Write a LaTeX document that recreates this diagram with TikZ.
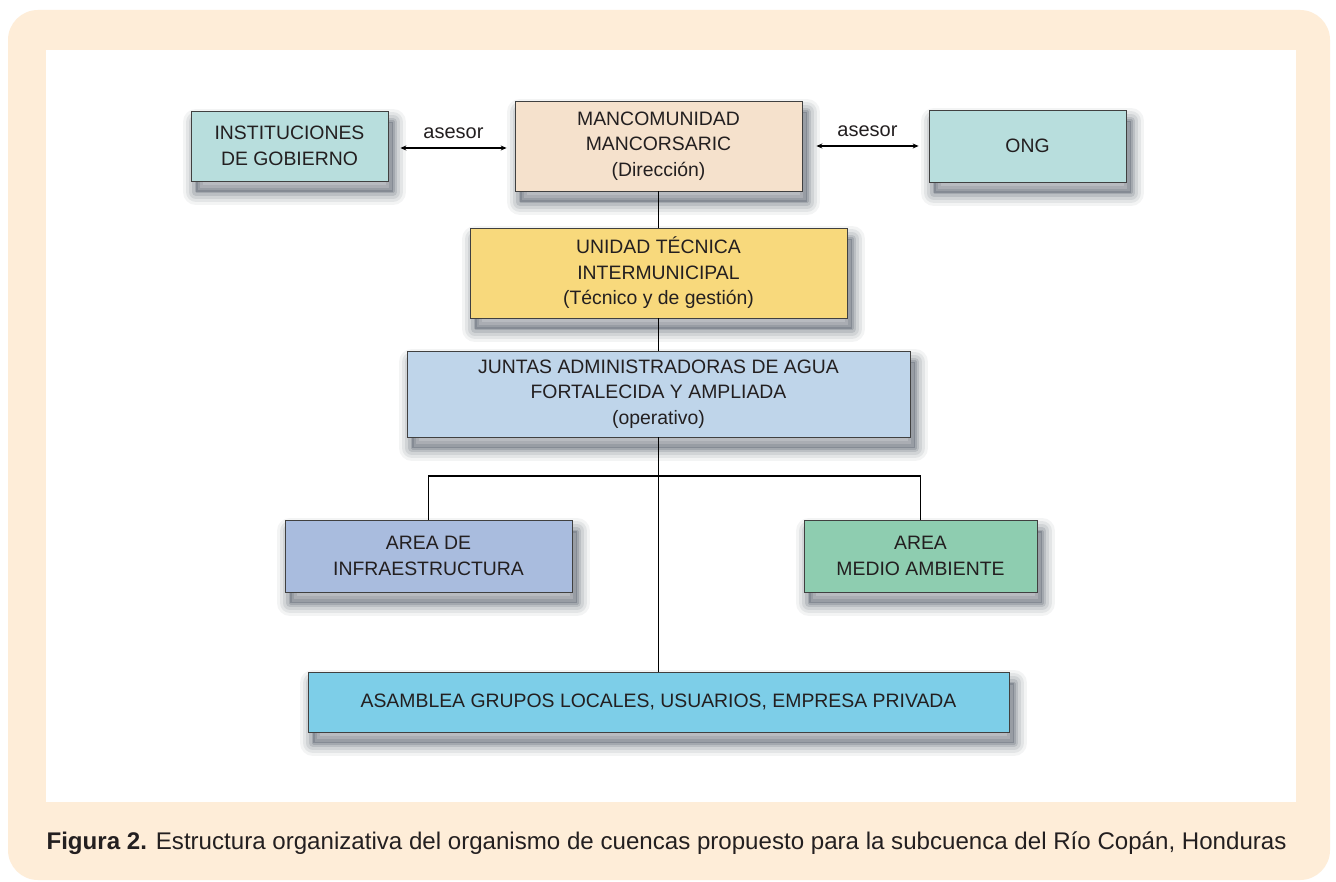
\documentclass[tikz,border=0pt]{standalone}
\usepackage{fontspec}
\setmainfont{Liberation Sans}
\usetikzlibrary{arrows.meta}
\definecolor{peach}{HTML}{FEEDD8}
\definecolor{txt}{HTML}{231F20}
\definecolor{cteal}{HTML}{B8DEDD}
\definecolor{cbeige}{HTML}{F5E1CC}
\definecolor{cyell}{HTML}{F8D97C}
\definecolor{cblue}{HTML}{BFD5EA}
\definecolor{cslate}{HTML}{A9BCDE}
\definecolor{cgreen}{HTML}{8ECDB0}
\definecolor{ccyan}{HTML}{7DCEE8}
\definecolor{shad}{HTML}{1E2A3A}
\tikzset{
  shl/.style 2 args={preaction={draw=shad, fill=none, line width=#1, line join=round,
      opacity=#2, transform canvas={xshift=5pt,yshift=-11pt}}},
  softshadow/.style={
    preaction={fill=shad, draw=none, opacity=0.22, transform canvas={xshift=5pt,yshift=-11pt}},
    shl={26pt}{0.05}, shl={20pt}{0.07}, shl={14pt}{0.09}, shl={8pt}{0.12}, shl={3pt}{0.15}},
  box/.style={softshadow, draw=black!75, line width=0.8pt, align=center, text=txt,
    font=\fontsize{19.4}{25.5}\selectfont, inner sep=0pt},
  link/.style={line width=1.8pt, black},
  dlink/.style={line width=1.2pt, black, {Stealth[length=6pt,width=5pt]}-{Stealth[length=6pt,width=5pt]}},
  lbl/.style={text=txt, font=\fontsize{20}{22}\selectfont}
}
\begin{document}
\begin{tikzpicture}[x=1pt,y=-1pt]
\useasboundingbox (0,0) rectangle (1336,882);
\fill[white] (0,0) rectangle (1336,882);
\fill[peach, rounded corners=30pt] (8,10) rectangle (1330,880);
\fill[white] (46,50) rectangle (1296,802);

\node[box, fill=cteal, minimum width=197, minimum height=70] (inst) at (289.5,146) {INSTITUCIONES\\DE GOBIERNO};
\node[box, fill=cbeige, minimum width=287, minimum height=90] (manc) at (658.5,146) {MANCOMUNIDAD\\MANCORSARIC\\(Dirección)};
\node[box, fill=cteal, minimum width=197, minimum height=72] (ong) at (1027.5,146) {ONG};
\node[box, fill=cyell, minimum width=377, minimum height=90] (uti) at (658.5,273) {UNIDAD TÉCNICA\\INTERMUNICIPAL\\(Técnico y de gestión)};
\node[box, fill=cblue, minimum width=503, minimum height=86] (jun) at (658.5,394) {JUNTAS ADMINISTRADORAS DE AGUA\\FORTALECIDA Y AMPLIADA\\(operativo)};
\node[box, fill=cslate, minimum width=287, minimum height=72] (infra) at (428.5,556) {AREA DE\\INFRAESTRUCTURA};
\node[box, fill=cgreen, minimum width=233, minimum height=72] (medio) at (920.5,556) {AREA\\MEDIO AMBIENTE};
\node[box, fill=ccyan, minimum width=701, minimum height=60] (asam) at (658.5,702) {ASAMBLEA GRUPOS LOCALES, USUARIOS, EMPRESA PRIVADA};

\draw[link] (manc.south) -- (uti.north);
\draw[link] (uti.south) -- (jun.north);
\draw[link] (jun.south) -- (asam.north);
\draw[link] (infra.north) -- ++(0,-44) coordinate (jl) -| (medio.north);

\draw[dlink] ([xshift=12pt,yshift=-2pt]inst.east) -- ([xshift=-8pt,yshift=-2pt]inst.east -| manc.west)
  node[midway, lbl, above=5pt] (a1) {asesor};
\draw[dlink] ([xshift=14pt]ong.west -| manc.east) -- ([xshift=-10pt]ong.west)
  node[midway, lbl, above=5pt] (a2) {asesor};

\node[anchor=west, text=txt, font=\fontsize{24.1}{26}\selectfont] (cap) at (43,843)
  {\textbf{Figura 2.} Estructura organizativa del organismo de cuencas propuesto para la subcuenca del Río Copán, Honduras};
\end{tikzpicture}
\end{document}
